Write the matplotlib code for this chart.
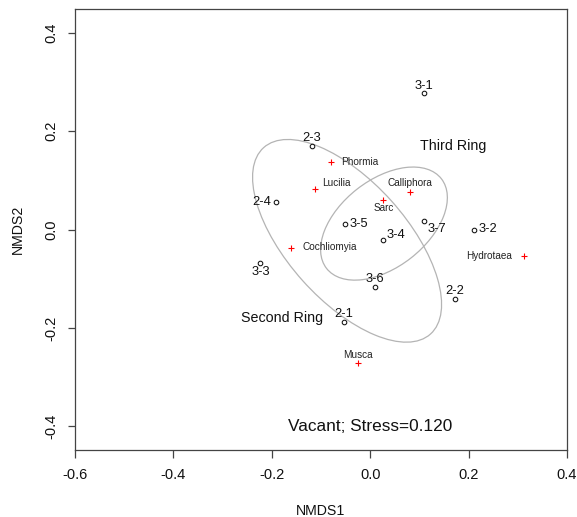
import numpy as np
import matplotlib
matplotlib.use("Agg")
import matplotlib.pyplot as plt
from matplotlib.patches import Ellipse

plt.rcParams['font.family'] = ['Liberation Sans', 'DejaVu Sans']

# ---- data ----
site_names = ["3-1", "2-3", "2-4", "3-5", "3-4", "3-7", "3-2", "3-3", "3-6", "2-1", "2-2"]
site_x = [0.109, -0.118, -0.192, -0.051, 0.027, 0.110, 0.211, -0.223, 0.009, -0.054, 0.172]
site_y = [0.277, 0.169, 0.055, 0.011, -0.022, 0.017, 0.000, -0.069, -0.117, -0.188, -0.142]

species_names = ["Phormia", "Lucilia", "Calliphora", "Sarc", "Cochliomyia", "Hydrotaea", "Musca"]
species_x = [-0.079, -0.112, 0.080, 0.027, -0.161, 0.312, -0.024]
species_y = [0.137, 0.083, 0.076, 0.060, -0.037, -0.054, -0.272]

ring_names = ["Second Ring", "Third Ring"]
ring_center_x = [-0.047, 0.028]
ring_center_y = [-0.023, 0.012]
ring_var_x = [0.0369, 0.0166]
ring_var_y = [0.0424, 0.0132]
ring_cov_xy = [-0.0248, 0.0068]
ring_label_x = [-0.180, 0.169]
ring_label_y = [-0.179, 0.170]

stress_text = "Vacant; Stress=0.120"
stress_x, stress_y = 0.0, -0.400

x_ticks = [-0.6, -0.4, -0.2, 0.0, 0.2, 0.4]
y_ticks = [-0.4, -0.2, 0.0, 0.2, 0.4]
x_label = "NMDS1"
y_label = "NMDS2"

# ---- label placement (style) ----
site_offsets = {
    "3-1": (0, 5.5, 'center'), "2-3": (0, 6.0, 'center'), "2-4": (-3.4, 0, 'right'),
    "3-5": (3.4, 0, 'left'), "3-4": (2.4, 3.6, 'left'), "3-7": (2.4, -5.5, 'left'),
    "3-2": (3.0, 0, 'left'), "3-3": (0, -6.0, 'center'), "3-6": (0, 5.8, 'center'),
    "2-1": (0, 5.8, 'center'), "2-2": (0, 5.8, 'center'),
}
species_offsets = {
    "Phormia": (7.2, 0, 'left'), "Lucilia": (4.8, 4.3, 'left'),
    "Calliphora": (0, 6.3, 'center'), "Sarc": (0, -5.5, 'center'),
    "Cochliomyia": (8.6, 0.5, 'left'), "Hydrotaea": (-8.6, 0, 'right'),
    "Musca": (0, 5.8, 'center'),
}

W, H = 577, 517
fig = plt.figure(figsize=(W / 100, H / 100), dpi=100)
ax = fig.add_axes([75 / W, 67 / H, 492 / W, 441 / H])
ax.set_xlim(-0.6, 0.4)
ax.set_ylim(-0.448, 0.448)

# ellipses
for i in range(len(ring_names)):
    cov = np.array([[ring_var_x[i], ring_cov_xy[i]], [ring_cov_xy[i], ring_var_y[i]]])
    vals, vecs = np.linalg.eigh(cov)
    order = np.argsort(vals)[::-1]
    vals, vecs = vals[order], vecs[:, order]
    angle = np.degrees(np.arctan2(vecs[1, 0], vecs[0, 0]))
    e = Ellipse((ring_center_x[i], ring_center_y[i]), 2 * np.sqrt(vals[0]), 2 * np.sqrt(vals[1]),
                angle=angle, fill=False, edgecolor='#b4b4b4', lw=0.9, zorder=2)
    ax.add_patch(e)
    ax.text(ring_label_x[i], ring_label_y[i], ring_names[i], fontsize=10.3,
            ha='center', va='center', color='#111111')

# sites
ax.plot(site_x, site_y, linestyle='none', marker='o', ms=3.3, mfc='none', mec='#111111',
        mew=0.75, zorder=3)
for n, x, y in zip(site_names, site_x, site_y):
    dx, dy, ha = site_offsets[n]
    ax.annotate(n, (x, y), xytext=(dx, dy), textcoords='offset points', ha=ha, va='center',
                fontsize=9.3, color='#111111')

# species
ax.plot(species_x, species_y, linestyle='none', marker='+', ms=4.5, color='red', mew=0.8,
        zorder=3)
for n, x, y in zip(species_names, species_x, species_y):
    dx, dy, ha = species_offsets[n]
    ax.annotate(n, (x, y), xytext=(dx, dy), textcoords='offset points', ha=ha, va='center',
                fontsize=7.2, color='#222222')

ax.text(stress_x, stress_y, stress_text, fontsize=12.4, ha='center', va='center', color='#111111')

# axes styling
for s in ax.spines.values():
    s.set_color('#444444')
    s.set_linewidth(0.9)
ax.set_xticks(x_ticks)
ax.set_xticklabels([f"{v:.1f}" for v in x_ticks])
ax.set_yticks(y_ticks)
ax.set_yticklabels([f"{v:.1f}" for v in y_ticks], rotation=90, va='center')
ax.tick_params(axis='both', direction='out', length=5.4, width=0.9, color='#444444',
               labelsize=10.5, labelcolor='#111111')
ax.tick_params(axis='x', pad=7.6)
ax.tick_params(axis='y', pad=6.3)

ax.set_xlabel(x_label, fontsize=10.2, color='#111111', va='center')
ax.xaxis.set_label_coords(0.5, -60.7 / 441)
ax.set_ylabel(y_label, fontsize=10.2, color='#111111', va='center')
ax.yaxis.set_label_coords(-57.3 / 492, 0.5)

fig.savefig("out.png", dpi=100)
